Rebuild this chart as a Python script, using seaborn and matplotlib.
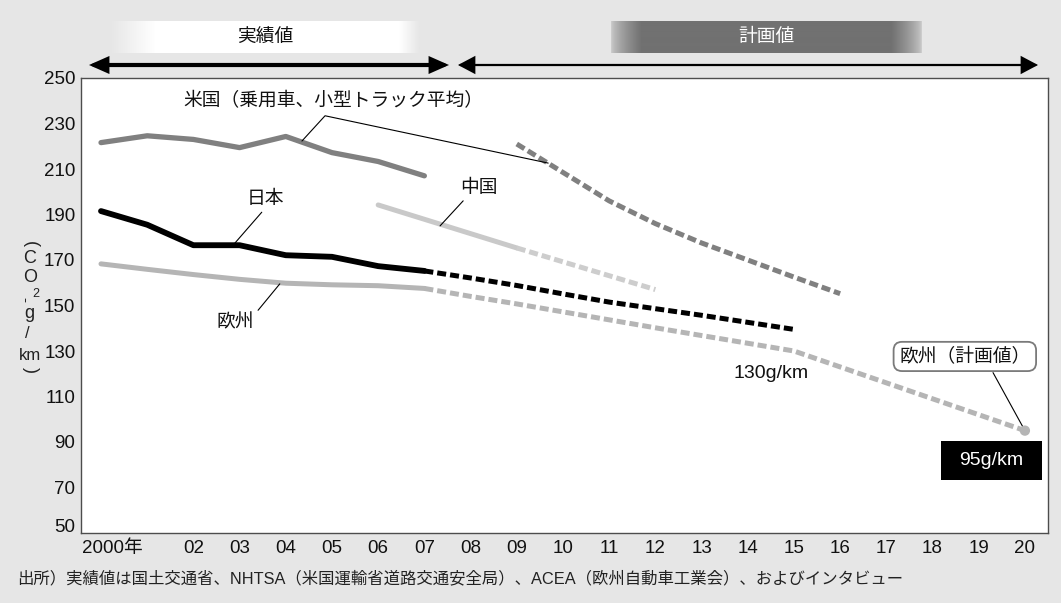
import numpy as np
import matplotlib
matplotlib.use("Agg")
import matplotlib.pyplot as plt
from matplotlib.patches import Rectangle, FancyArrowPatch
from matplotlib.transforms import ScaledTranslation
import seaborn as sns

# ---------------------------------------------------------------- data
us_actual_years = [2000, 2001, 2002, 2003, 2004, 2005, 2006, 2007]
us_actual = [221.6, 224.6, 223.0, 219.4, 224.3, 217.2, 213.3, 207.0]
us_plan_years = [2009, 2010, 2011, 2012, 2013, 2014, 2015, 2016]
us_plan = [221.0, 208.5, 196.0, 186.0, 177.5, 170.0, 162.5, 155.2]

jp_actual_years = [2000, 2001, 2002, 2003, 2004, 2005, 2006, 2007]
jp_actual = [191.5, 185.5, 176.5, 176.5, 172.1, 171.4, 167.3, 165.2]
jp_plan_years = [2007, 2008, 2009, 2010, 2011, 2012, 2013, 2014, 2015]
jp_plan = [165.2, 162.1, 158.8, 155.1, 151.5, 148.6, 145.7, 142.6, 139.5]

cn_actual_years = [2006, 2007, 2008, 2009]
cn_actual = [194.2, 187.9, 181.6, 175.3]
cn_plan_years = [2009, 2010, 2011, 2012]
cn_plan = [175.3, 169.2, 163.1, 157.0]

eu_actual_years = [2000, 2001, 2002, 2003, 2004, 2005, 2006, 2007]
eu_actual = [168.3, 165.9, 163.6, 161.5, 159.8, 159.1, 158.7, 157.5]
eu_plan_years = [2007, 2008, 2009, 2010, 2011, 2012, 2013, 2014, 2015,
                 2016, 2017, 2018, 2019, 2020]
eu_plan = [157.5, 154.0, 150.7, 147.2, 143.7, 140.2, 136.8, 133.4, 130.0,
           123.0, 116.0, 109.0, 102.0, 95.0]

x_ticks = list(range(2000, 2021))
x_tick_labels = ["2000年", ""] + [f"{y % 100:02d}" for y in range(2002, 2021)]
y_ticks = list(range(50, 251, 20))

source_note = ("出所）実績値は国土交通省、NHTSA（米国運輸省道路交通安全局）、"
               "ACEA（欧州自動車工業会）、およびインタビュー")

# ---------------------------------------------------------------- style
BG = "#e6e6e6"
C_US, C_JP, C_CN, C_EU = "#808080", "#000000", "#c9c9c9", "#b5b5b5"
C_CN_PLAN = "#cdcdcd"
SPINE = "#4d4d4d"
DASH = (0, (1.8, 0.8))

sns.set_theme(style="white")
plt.rcParams["font.family"] = ["Liberation Sans", "Noto Sans CJK JP", "DejaVu Sans"]
plt.rcParams["text.color"] = "#111111"

W, H = 1061, 603
fig = plt.figure(figsize=(W / 100, H / 100), dpi=100, facecolor=BG)


def px_box(x0, y0, x1, y1):
    """Figure rectangle from pixel edges measured from the top-left corner."""
    return [x0 / W, 1 - y1 / H, (x1 - x0) / W, (y1 - y0) / H]


ax = fig.add_axes(px_box(81, 78, 1048, 533))
ax.set_facecolor("white")

# ---------------------------------------------------------------- lines
solid_kw = dict(errorbar=None, solid_capstyle="round", zorder=3)
dash_kw = dict(errorbar=None, linestyle=DASH, dash_capstyle="butt", zorder=3)

sns.lineplot(x=us_actual_years, y=us_actual, ax=ax, color=C_US, lw=3.8, **solid_kw)
sns.lineplot(x=us_plan_years, y=us_plan, ax=ax, color=C_US, lw=3.6, **dash_kw)

sns.lineplot(x=cn_actual_years, y=cn_actual, ax=ax, color=C_CN, lw=3.6, **solid_kw)
sns.lineplot(x=cn_plan_years, y=cn_plan, ax=ax, color=C_CN_PLAN, lw=3.6, **dash_kw)

sns.lineplot(x=eu_actual_years, y=eu_actual, ax=ax, color=C_EU, lw=3.6, **solid_kw)
sns.lineplot(x=eu_plan_years, y=eu_plan, ax=ax, color=C_EU, lw=3.6, **dash_kw)
sns.scatterplot(x=eu_plan_years[-1:], y=eu_plan[-1:], ax=ax, color=C_EU,
                s=55, edgecolor="none", zorder=5)

sns.lineplot(x=jp_actual_years, y=jp_actual, ax=ax, color=C_JP, lw=4.2, **solid_kw)
sns.lineplot(x=jp_plan_years, y=jp_plan, ax=ax, color=C_JP, lw=3.6, **dash_kw)

# ---------------------------------------------------------------- axes
ax.set_xlim(2000 - 0.433, 2020.5)
ax.set_ylim(50, 250)
ax.set_xticks(x_ticks)
ax.set_xticklabels(x_tick_labels)
ax.set_yticks(y_ticks)
ax.set_yticklabels([str(v) for v in y_ticks])
ax.set_xlabel("")
ax.set_ylabel("")
for side in ["left", "bottom", "right", "top"]:
    ax.spines[side].set_visible(True)
    ax.spines[side].set_color(SPINE)
    ax.spines[side].set_linewidth(1.0)
ax.tick_params(axis="both", direction="in", length=5, width=1, color=SPINE,
               labelsize=13.5, labelcolor="#111111")
ax.tick_params(axis="x", pad=5)
ax.tick_params(axis="y", pad=4)

# nudge the first year label so the digits sit on their tick
lab0 = ax.get_xticklabels()[0]
lab0.set_transform(lab0.get_transform() + ScaledTranslation(0.11, 0, fig.dpi_scale_trans))
# lift the bottom value label clear of the year axis
laby = ax.get_yticklabels()[0]
laby.set_transform(laby.get_transform() + ScaledTranslation(0, 0.08, fig.dpi_scale_trans))

# ---------------------------------------------------------------- labels
lab_fs = 13.5
ax.text(2005.02, 240.0, "米国（乗用車、小型トラック平均）", fontsize=lab_fs,
        ha="center", va="center")
ax.plot([2004.35, 2004.85, 2009.68], [222.3, 233.4, 212.6], color="black", lw=0.8, zorder=4)

ax.text(2003.55, 196.6, "日本", fontsize=lab_fs, ha="center", va="center")
ax.plot([2002.88, 2003.48], [177.0, 191.0], color="black", lw=0.8, zorder=4)

ax.text(2008.18, 201.4, "中国", fontsize=lab_fs, ha="center", va="center")
ax.plot([2007.34, 2007.84], [185.0, 196.0], color="black", lw=0.8, zorder=4)

ax.text(2002.9, 142.4, "欧州", fontsize=lab_fs, ha="center", va="center")
ax.plot([2003.4, 2003.87], [147.9, 159.5], color="black", lw=0.8, zorder=4)

ax.text(2014.5, 120.1, "130g/km", fontsize=14, ha="center", va="center")

ax.plot([2019.31, 2020.0], [120.5, 95.0], color="black", lw=0.8, zorder=4)
ax.text(2018.7, 127.6, "欧州（計画値）", fontsize=lab_fs, ha="center", va="center",
        zorder=6,
        bbox=dict(boxstyle="round,pad=0.3,rounding_size=0.45", fc="white",
                  ec="#7a7a7a", lw=1.3))

ax.add_patch(Rectangle((2018.18, 73.4), 2.19, 17.2, facecolor="black",
                       edgecolor="none", zorder=6, clip_on=False))
ax.text(2019.27, 81.9, "95g/km", fontsize=14, color="white", ha="center",
        va="center", zorder=7)


# vertical unit label (CO2-g/km), set character by character
def unit_piece(x, y, s, size=13, rot=0):
    fig.text(x / W, 1 - y / H, s, ha="center", va="center", fontsize=size,
             rotation=rot, rotation_mode="anchor", color="#222222",
             family=["Liberation Sans", "Noto Sans CJK JP"])


unit_piece(30, 244, "(", rot=-90)
unit_piece(30, 259, "C")
unit_piece(30, 278, "O")
unit_piece(25, 299, "-", size=11, rot=90)
unit_piece(36, 294, "2", size=9)
unit_piece(29, 313, "g")
unit_piece(27, 334, "/", size=12)
unit_piece(30, 356, "km", size=12)
unit_piece(30, 370, ")", rot=-90)

# ---------------------------------------------------------------- header
bg_v = int(BG[1:3], 16) / 255.0


def header_band(x0, x1, y0, y1, profile, text, text_color):
    bax = fig.add_axes(px_box(x0, y0, x1, y1))
    rgb = np.repeat(profile[:, None], 3, axis=1)
    bax.imshow(rgb[None, :, :], aspect="auto", extent=(0, 1, 0, 1),
               interpolation="bilinear", vmin=0, vmax=1)
    bax.set_axis_off()
    bax.text(0.5, 0.5, text, transform=bax.transAxes, ha="center", va="center",
             fontsize=13.5, color=text_color)


n1 = 310
t1 = np.arange(n1)
ramp1 = np.clip(t1 / 45.0, 0, 1) * np.clip((n1 - 1 - t1) / 20.0, 0, 1)
header_band(110, 420, 21, 53, bg_v + (1 - bg_v) * ramp1, "実績値", "#111111")

n2 = 311
t2 = np.arange(n2)
dark, light = 0x71 / 255.0, 0xcc / 255.0
ramp2 = np.clip(t2 / 30.0, 0, 1) ** 0.7 * np.clip((n2 - 1 - t2) / 30.0, 0, 1) ** 0.7
header_band(611, 922, 21, 53, light + (dark - light) * ramp2, "計画値", "white")


def header_arrow(x0, x1, y, style, lw):
    arr = FancyArrowPatch((x0 / W, 1 - y / H), (x1 / W, 1 - y / H),
                          transform=fig.transFigure, arrowstyle=style,
                          mutation_scale=1, lw=lw, color="black",
                          shrinkA=0, shrinkB=0, joinstyle="miter")
    fig.add_artist(arr)


header_arrow(89, 449, 65, "<|-|>,head_length=9.5,head_width=4.2", 3.0)
header_arrow(458, 1038, 65, "<|-|>,head_length=10,head_width=5.3", 1.6)

# ---------------------------------------------------------------- source
fig.text(17 / W, 1 - 578 / H, source_note, fontsize=11.8, ha="left", va="center",
         color="#222222")

fig.savefig("out.png", dpi=100, facecolor=BG)
